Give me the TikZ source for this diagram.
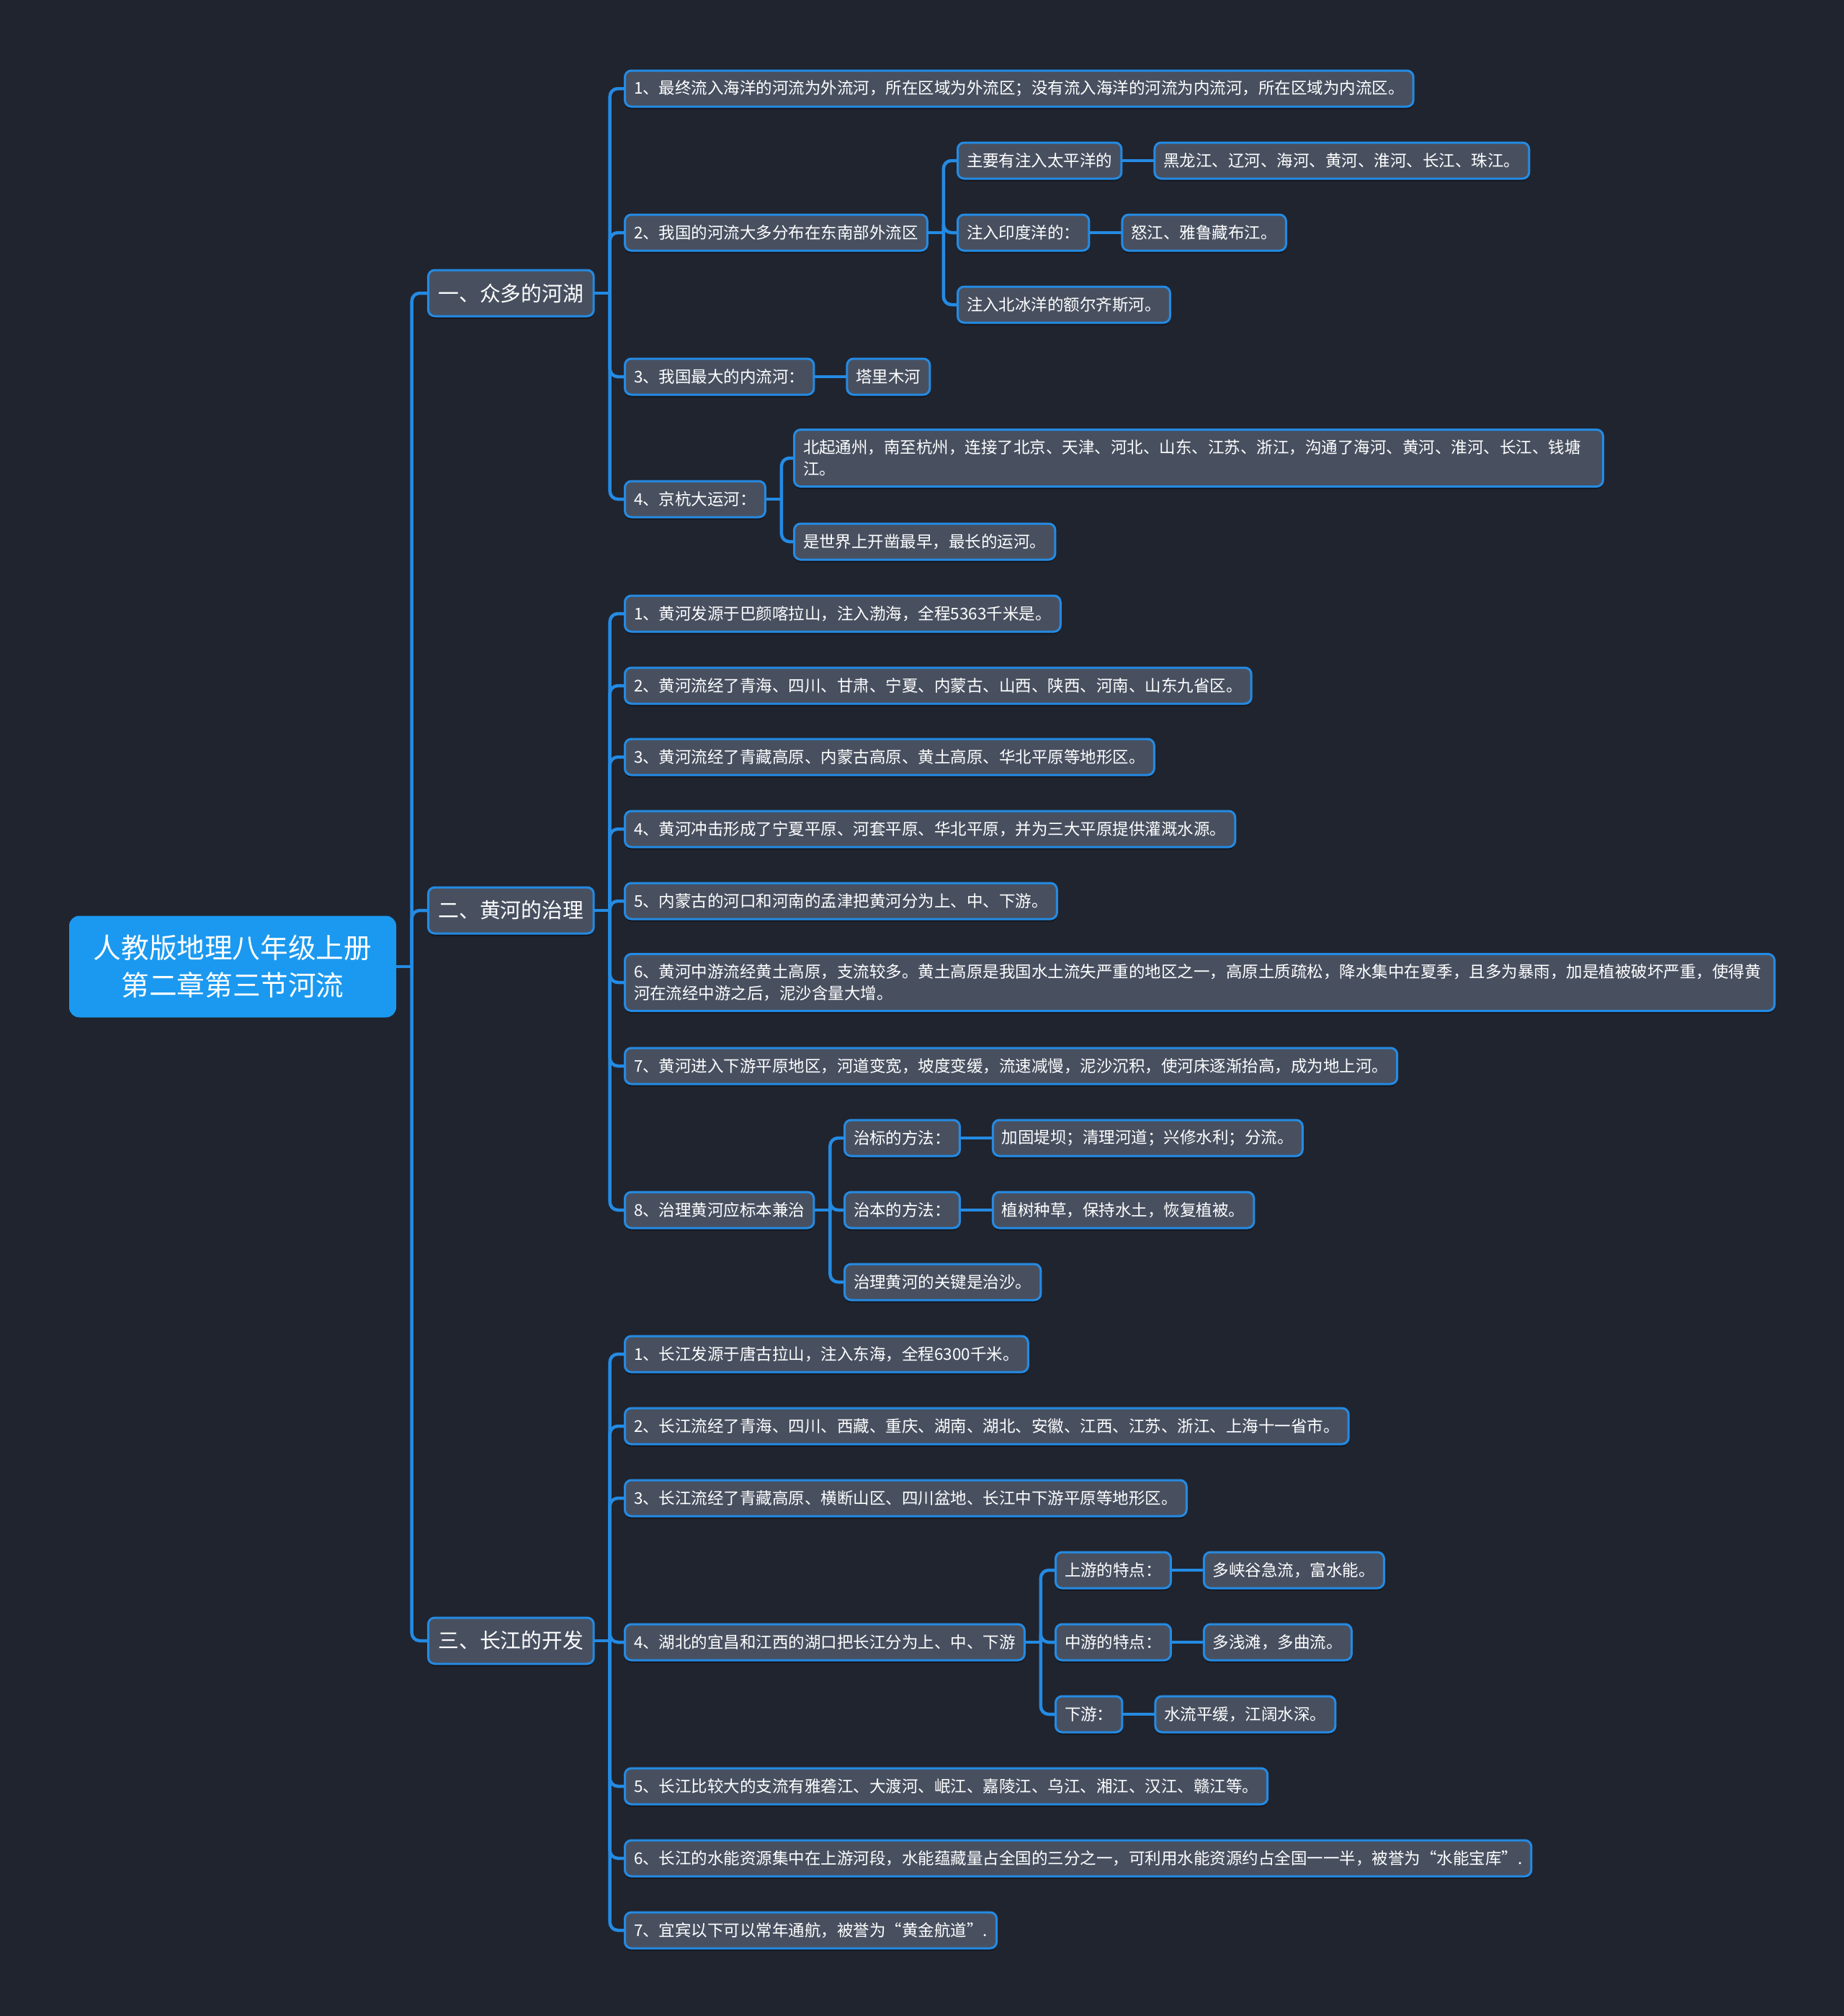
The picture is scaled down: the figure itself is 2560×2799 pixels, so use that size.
\documentclass[tikz,border=0pt]{standalone}
\usepackage{fontspec}
\setmainfont{Noto Sans CJK SC}
\usetikzlibrary{positioning,shadows}
\definecolor{riverbg}{RGB}{32,36,47}
\definecolor{riverbox}{RGB}{72,80,96}
\definecolor{riverline}{RGB}{36,139,228}
\definecolor{riverroot}{RGB}{27,153,240}

\begin{document}
\begin{tikzpicture}[x=.1mm,y=-.1mm,line cap=round,line join=round,
 link/.style={riverline,line width=.45mm,rounded corners=1.1mm},
 itembox/.style={draw=riverline,fill=riverbox,text=white,line width=.3mm,
  rounded corners=.9mm,anchor=west,minimum height=5mm,inner xsep=1.25mm,
  inner ysep=0pt,font=\fontsize{6.4}{8.6}\selectfont,
  drop shadow={shadow xshift=0mm,shadow yshift=-.35mm,opacity=.35,fill=black}},
 twoline/.style={itembox,align=left,minimum height=7.9mm},
 partbox/.style={itembox,minimum height=6.4mm,inner xsep=1.4mm,
  font=\fontsize{8.2}{10}\selectfont},
 rootbox/.style={fill=riverroot,text=white,rounded corners=1.4mm,align=center,
  minimum width=45.4mm,minimum height=14.1mm,
  font=\fontsize{11}{14.8}\selectfont}]
% 背景，同时固定画面大小
\fill[riverbg] (0,0) rectangle (2560,2799);
% 中心主题与三个分节
\node[rootbox] (root) at (323,1342) {人教版地理八年级上册\\第二章第三节河流};
\node[partbox] (s1) at (593,407) {一、众多的河湖};
\node[partbox] (s2) at (593,1264) {二、黄河的治理};
\node[partbox] (s3) at (593,2278) {三、长江的开发};
% 一、众多的河湖
\node[itembox] (a1) at (866,123)
 {1、最终流入海洋的河流为外流河，所在区域为外流区；没有流入海洋的河流为内流河，所在区域为内流区。};
\node[itembox] (a2) at (866,323) {2、我国的河流大多分布在东南部外流区};
\node[itembox] (a2p) at (1328,223) {主要有注入太平洋的};
\node[itembox,right=4.3mm of a2p] (a2pl) {黑龙江、辽河、海河、黄河、淮河、长江、珠江。};
\node[itembox] (a2i) at (1328,323) {注入印度洋的：};
\node[itembox,right=4.3mm of a2i] (a2il) {怒江、雅鲁藏布江。};
\node[itembox] (a2a) at (1328,423) {注入北冰洋的额尔齐斯河。};
\node[itembox] (a3) at (866,523) {3、我国最大的内流河：};
\node[itembox,right=4.3mm of a3] (a3l) {塔里木河};
\node[itembox] (a4) at (866,693) {4、京杭大运河：};
\node[twoline,text width=109.8mm] (a4n) at (1101,636)
 {北起通州，南至杭州，连接了北京、天津、河北、山东、江苏、浙江，沟通了海河、黄河、淮河、长江、钱塘\\江。};
\node[itembox] (a4w) at (1101,752) {是世界上开凿最早，最长的运河。};
% 二、黄河的治理
\node[itembox] (b1) at (866,852) {1、黄河发源于巴颜喀拉山，注入渤海，全程5363千米是。};
\node[itembox] (b2) at (866,952)
 {2、黄河流经了青海、四川、甘肃、宁夏、内蒙古、山西、陕西、河南、山东九省区。};
\node[itembox] (b3) at (866,1051) {3、黄河流经了青藏高原、内蒙古高原、黄土高原、华北平原等地形区。};
\node[itembox] (b4) at (866,1151)
 {4、黄河冲击形成了宁夏平原、河套平原、华北平原，并为三大平原提供灌溉水源。};
\node[itembox] (b5) at (866,1251) {5、内蒙古的河口和河南的孟津把黄河分为上、中、下游。};
\node[twoline,text width=157.1mm] (b6) at (866,1364)
 {6、黄河中游流经黄土高原，支流较多。黄土高原是我国水土流失严重的地区之一，高原土质疏松，降水集中在夏季，且多为暴雨，加是植被破坏严重，使得黄\\河在流经中游之后，泥沙含量大增。};
\node[itembox] (b7) at (866,1480)
 {7、黄河进入下游平原地区，河道变宽，坡度变缓，流速减慢，泥沙沉积，使河床逐渐抬高，成为地上河。};
\node[itembox] (b8) at (866,1680) {8、治理黄河应标本兼治};
\node[itembox] (b8a) at (1171,1580) {治标的方法：};
\node[itembox,right=4.3mm of b8a] (b8al) {加固堤坝；清理河道；兴修水利；分流。};
\node[itembox] (b8b) at (1171,1680) {治本的方法：};
\node[itembox,right=4.3mm of b8b] (b8bl) {植树种草，保持水土，恢复植被。};
\node[itembox] (b8c) at (1171,1780) {治理黄河的关键是治沙。};
% 三、长江的开发
\node[itembox] (c1) at (866,1880) {1、长江发源于唐古拉山，注入东海，全程6300千米。};
\node[itembox] (c2) at (866,1980)
 {2、长江流经了青海、四川、西藏、重庆、湖南、湖北、安徽、江西、江苏、浙江、上海十一省市。};
\node[itembox] (c3) at (866,2080) {3、长江流经了青藏高原、横断山区、四川盆地、长江中下游平原等地形区。};
\node[itembox] (c4) at (866,2280) {4、湖北的宜昌和江西的湖口把长江分为上、中、下游};
\node[itembox] (c4a) at (1464,2180) {上游的特点：};
\node[itembox,right=4.3mm of c4a] (c4al) {多峡谷急流，富水能。};
\node[itembox] (c4b) at (1464,2280) {中游的特点：};
\node[itembox,right=4.3mm of c4b] (c4bl) {多浅滩，多曲流。};
\node[itembox] (c4c) at (1464,2380) {下游：};
\node[itembox,right=4.3mm of c4c] (c4cl) {水流平缓，江阔水深。};
\node[itembox] (c5) at (866,2480)
 {5、长江比较大的支流有雅砻江、大渡河、岷江、嘉陵江、乌江、湘江、汉江、赣江等。};
\node[itembox] (c6) at (866,2580)
 {6、长江的水能资源集中在上游河段，水能蕴藏量占全国的三分之一，可利用水能资源约占全国一一半，被誉为“水能宝库”.};
\node[itembox] (c7) at (866,2680) {7、宜宾以下可以常年通航，被誉为“黄金航道”.};
% 分叉点：父节点右侧稍外
\coordinate (j0) at ([xshift=2.1mm]root.east);
\coordinate (j1) at ([xshift=2.1mm]s1.east);
\coordinate (j2) at ([xshift=2.1mm]s2.east);
\coordinate (j3) at ([xshift=2.1mm]s3.east);
\coordinate (ja2) at ([xshift=2.1mm]a2.east);
\coordinate (ja4) at ([xshift=2.1mm]a4.east);
\coordinate (jb8) at ([xshift=2.1mm]b8.east);
\coordinate (jc4) at ([xshift=2.1mm]c4.east);
% 连线
\draw[link] (root.east) -- (j0);
\foreach \n in {s1,s2,s3} \draw[link] (j0) |- (\n.west);
\draw[link] (s1.east) -- (j1);
\foreach \n in {a1,a2,a3,a4} \draw[link] (j1) |- (\n.west);
\draw[link] (s2.east) -- (j2);
\foreach \n in {b1,b2,b3,b4,b5,b6,b7,b8} \draw[link] (j2) |- (\n.west);
\draw[link] (s3.east) -- (j3);
\foreach \n in {c1,c2,c3,c4,c5,c6,c7} \draw[link] (j3) |- (\n.west);
\draw[link] (a2.east) -- (ja2);
\foreach \n in {a2p,a2i,a2a} \draw[link] (ja2) |- (\n.west);
\draw[link] (a4.east) -- (ja4);
\foreach \n in {a4n,a4w} \draw[link] (ja4) |- (\n.west);
\draw[link] (b8.east) -- (jb8);
\foreach \n in {b8a,b8b,b8c} \draw[link] (jb8) |- (\n.west);
\draw[link] (c4.east) -- (jc4);
\foreach \n in {c4a,c4b,c4c} \draw[link] (jc4) |- (\n.west);
% 叶节点
\draw[link] (a2p.east) -- (a2pl.west);
\draw[link] (a2i.east) -- (a2il.west);
\draw[link] (a3.east) -- (a3l.west);
\draw[link] (b8a.east) -- (b8al.west);
\draw[link] (b8b.east) -- (b8bl.west);
\draw[link] (c4a.east) -- (c4al.west);
\draw[link] (c4b.east) -- (c4bl.west);
\draw[link] (c4c.east) -- (c4cl.west);
\end{tikzpicture}
\end{document}
